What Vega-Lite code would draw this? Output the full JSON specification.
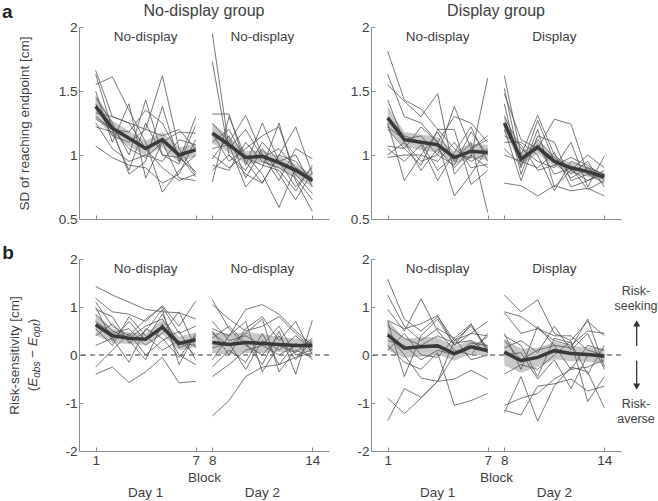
{
"$schema": "https://vega.github.io/schema/vega-lite/v6.json",
"padding": {"left": 2, "top": 2, "right": 0, "bottom": 0},
"background": "white",
"config": {
  "view": {"stroke": null},
  "font": "Liberation Sans",
  "axis": {"domainColor": "#8c8c8c", "tickColor": "#8c8c8c", "labelColor": "#404040", "labelFont": "Liberation Sans", "titleFont": "Liberation Sans", "labelFontSize": 13.5, "titleFontSize": 13.5, "titleFontWeight": "normal", "titleColor": "#404040", "grid": false, "tickSize": -4, "labelPadding": 6, "labelOverlap": false},
  "text": {"font": "Liberation Sans", "color": "#404040"}
},
"datasets": {
"subj": [
{"p":"A","s":1,"d":1,"b":1,"v":1.66},{"p":"A","s":1,"d":1,"b":2,"v":1.30},{"p":"A","s":1,"d":1,"b":3,"v":1.25},{"p":"A","s":1,"d":1,"b":4,"v":1.20},{"p":"A","s":1,"d":1,"b":5,"v":1.62},{"p":"A","s":1,"d":1,"b":6,"v":1.05},{"p":"A","s":1,"d":1,"b":7,"v":0.85},
{"p":"A","s":2,"d":1,"b":1,"v":1.63},{"p":"A","s":2,"d":1,"b":2,"v":1.20},{"p":"A","s":2,"d":1,"b":3,"v":0.85},{"p":"A","s":2,"d":1,"b":4,"v":0.95},{"p":"A","s":2,"d":1,"b":5,"v":1.38},{"p":"A","s":2,"d":1,"b":6,"v":0.95},{"p":"A","s":2,"d":1,"b":7,"v":1.30},
{"p":"A","s":3,"d":1,"b":1,"v":1.55},{"p":"A","s":3,"d":1,"b":2,"v":1.61},{"p":"A","s":3,"d":1,"b":3,"v":1.35},{"p":"A","s":3,"d":1,"b":4,"v":1.10},{"p":"A","s":3,"d":1,"b":5,"v":0.71},{"p":"A","s":3,"d":1,"b":6,"v":0.88},{"p":"A","s":3,"d":1,"b":7,"v":1.00},
{"p":"A","s":4,"d":1,"b":1,"v":1.50},{"p":"A","s":4,"d":1,"b":2,"v":1.10},{"p":"A","s":4,"d":1,"b":3,"v":1.40},{"p":"A","s":4,"d":1,"b":4,"v":0.82},{"p":"A","s":4,"d":1,"b":5,"v":1.10},{"p":"A","s":4,"d":1,"b":6,"v":1.18},{"p":"A","s":4,"d":1,"b":7,"v":1.17},
{"p":"A","s":5,"d":1,"b":1,"v":1.45},{"p":"A","s":5,"d":1,"b":2,"v":1.25},{"p":"A","s":5,"d":1,"b":3,"v":1.00},{"p":"A","s":5,"d":1,"b":4,"v":1.43},{"p":"A","s":5,"d":1,"b":5,"v":1.00},{"p":"A","s":5,"d":1,"b":6,"v":0.93},{"p":"A","s":5,"d":1,"b":7,"v":1.23},
{"p":"A","s":6,"d":1,"b":1,"v":1.40},{"p":"A","s":6,"d":1,"b":2,"v":1.15},{"p":"A","s":6,"d":1,"b":3,"v":1.10},{"p":"A","s":6,"d":1,"b":4,"v":1.20},{"p":"A","s":6,"d":1,"b":5,"v":1.15},{"p":"A","s":6,"d":1,"b":6,"v":1.20},{"p":"A","s":6,"d":1,"b":7,"v":1.05},
{"p":"A","s":7,"d":1,"b":1,"v":1.33},{"p":"A","s":7,"d":1,"b":2,"v":1.30},{"p":"A","s":7,"d":1,"b":3,"v":1.25},{"p":"A","s":7,"d":1,"b":4,"v":1.05},{"p":"A","s":7,"d":1,"b":5,"v":0.90},{"p":"A","s":7,"d":1,"b":6,"v":0.80},{"p":"A","s":7,"d":1,"b":7,"v":0.85},
{"p":"A","s":8,"d":1,"b":1,"v":1.28},{"p":"A","s":8,"d":1,"b":2,"v":1.20},{"p":"A","s":8,"d":1,"b":3,"v":1.18},{"p":"A","s":8,"d":1,"b":4,"v":1.35},{"p":"A","s":8,"d":1,"b":5,"v":1.25},{"p":"A","s":8,"d":1,"b":6,"v":1.00},{"p":"A","s":8,"d":1,"b":7,"v":0.83},
{"p":"A","s":9,"d":1,"b":1,"v":1.25},{"p":"A","s":9,"d":1,"b":2,"v":1.05},{"p":"A","s":9,"d":1,"b":3,"v":0.95},{"p":"A","s":9,"d":1,"b":4,"v":1.00},{"p":"A","s":9,"d":1,"b":5,"v":0.95},{"p":"A","s":9,"d":1,"b":6,"v":1.12},{"p":"A","s":9,"d":1,"b":7,"v":1.08},
{"p":"A","s":10,"d":1,"b":1,"v":1.22},{"p":"A","s":10,"d":1,"b":2,"v":1.18},{"p":"A","s":10,"d":1,"b":3,"v":0.88},{"p":"A","s":10,"d":1,"b":4,"v":1.25},{"p":"A","s":10,"d":1,"b":5,"v":1.00},{"p":"A","s":10,"d":1,"b":6,"v":0.98},{"p":"A","s":10,"d":1,"b":7,"v":0.87},
{"p":"A","s":11,"d":1,"b":1,"v":1.07},{"p":"A","s":11,"d":1,"b":2,"v":0.98},{"p":"A","s":11,"d":1,"b":3,"v":0.92},{"p":"A","s":11,"d":1,"b":4,"v":0.90},{"p":"A","s":11,"d":1,"b":5,"v":0.78},{"p":"A","s":11,"d":1,"b":6,"v":0.85},{"p":"A","s":11,"d":1,"b":7,"v":1.12},
{"p":"A","s":12,"d":1,"b":1,"v":1.30},{"p":"A","s":12,"d":1,"b":2,"v":1.20},{"p":"A","s":12,"d":1,"b":3,"v":1.05},{"p":"A","s":12,"d":1,"b":4,"v":0.98},{"p":"A","s":12,"d":1,"b":5,"v":1.10},{"p":"A","s":12,"d":1,"b":6,"v":0.82},{"p":"A","s":12,"d":1,"b":7,"v":0.80},
{"p":"A","s":1,"d":2,"b":8,"v":1.95},{"p":"A","s":1,"d":2,"b":9,"v":1.05},{"p":"A","s":1,"d":2,"b":10,"v":1.20},{"p":"A","s":1,"d":2,"b":11,"v":0.98},{"p":"A","s":1,"d":2,"b":12,"v":1.05},{"p":"A","s":1,"d":2,"b":13,"v":0.90},{"p":"A","s":1,"d":2,"b":14,"v":0.80},
{"p":"A","s":2,"d":2,"b":8,"v":1.73},{"p":"A","s":2,"d":2,"b":9,"v":1.00},{"p":"A","s":2,"d":2,"b":10,"v":0.88},{"p":"A","s":2,"d":2,"b":11,"v":1.10},{"p":"A","s":2,"d":2,"b":12,"v":0.95},{"p":"A","s":2,"d":2,"b":13,"v":1.00},{"p":"A","s":2,"d":2,"b":14,"v":0.75},
{"p":"A","s":3,"d":2,"b":8,"v":1.32},{"p":"A","s":3,"d":2,"b":9,"v":1.32},{"p":"A","s":3,"d":2,"b":10,"v":0.92},{"p":"A","s":3,"d":2,"b":11,"v":1.25},{"p":"A","s":3,"d":2,"b":12,"v":0.95},{"p":"A","s":3,"d":2,"b":13,"v":0.75},{"p":"A","s":3,"d":2,"b":14,"v":0.90},
{"p":"A","s":4,"d":2,"b":8,"v":1.25},{"p":"A","s":4,"d":2,"b":9,"v":1.10},{"p":"A","s":4,"d":2,"b":10,"v":1.31},{"p":"A","s":4,"d":2,"b":11,"v":1.00},{"p":"A","s":4,"d":2,"b":12,"v":0.80},{"p":"A","s":4,"d":2,"b":13,"v":1.05},{"p":"A","s":4,"d":2,"b":14,"v":0.97},
{"p":"A","s":5,"d":2,"b":8,"v":1.17},{"p":"A","s":5,"d":2,"b":9,"v":0.95},{"p":"A","s":5,"d":2,"b":10,"v":1.05},{"p":"A","s":5,"d":2,"b":11,"v":1.15},{"p":"A","s":5,"d":2,"b":12,"v":1.22},{"p":"A","s":5,"d":2,"b":13,"v":0.85},{"p":"A","s":5,"d":2,"b":14,"v":0.70},
{"p":"A","s":6,"d":2,"b":8,"v":1.10},{"p":"A","s":6,"d":2,"b":9,"v":1.20},{"p":"A","s":6,"d":2,"b":10,"v":0.95},{"p":"A","s":6,"d":2,"b":11,"v":0.78},{"p":"A","s":6,"d":2,"b":12,"v":1.00},{"p":"A","s":6,"d":2,"b":13,"v":1.22},{"p":"A","s":6,"d":2,"b":14,"v":0.85},
{"p":"A","s":7,"d":2,"b":8,"v":1.05},{"p":"A","s":7,"d":2,"b":9,"v":1.08},{"p":"A","s":7,"d":2,"b":10,"v":0.75},{"p":"A","s":7,"d":2,"b":11,"v":0.90},{"p":"A","s":7,"d":2,"b":12,"v":1.25},{"p":"A","s":7,"d":2,"b":13,"v":0.80},{"p":"A","s":7,"d":2,"b":14,"v":0.56},
{"p":"A","s":8,"d":2,"b":8,"v":1.00},{"p":"A","s":8,"d":2,"b":9,"v":0.90},{"p":"A","s":8,"d":2,"b":10,"v":1.00},{"p":"A","s":8,"d":2,"b":11,"v":0.85},{"p":"A","s":8,"d":2,"b":12,"v":0.59},{"p":"A","s":8,"d":2,"b":13,"v":0.90},{"p":"A","s":8,"d":2,"b":14,"v":0.82},
{"p":"A","s":9,"d":2,"b":8,"v":0.97},{"p":"A","s":9,"d":2,"b":9,"v":1.15},{"p":"A","s":9,"d":2,"b":10,"v":0.82},{"p":"A","s":9,"d":2,"b":11,"v":1.05},{"p":"A","s":9,"d":2,"b":12,"v":0.85},{"p":"A","s":9,"d":2,"b":13,"v":0.65},{"p":"A","s":9,"d":2,"b":14,"v":0.87},
{"p":"A","s":10,"d":2,"b":8,"v":0.92},{"p":"A","s":10,"d":2,"b":9,"v":0.88},{"p":"A","s":10,"d":2,"b":10,"v":1.10},{"p":"A","s":10,"d":2,"b":11,"v":0.95},{"p":"A","s":10,"d":2,"b":12,"v":0.90},{"p":"A","s":10,"d":2,"b":13,"v":0.82},{"p":"A","s":10,"d":2,"b":14,"v":0.65},
{"p":"A","s":11,"d":2,"b":8,"v":0.88},{"p":"A","s":11,"d":2,"b":9,"v":1.00},{"p":"A","s":11,"d":2,"b":10,"v":0.85},{"p":"A","s":11,"d":2,"b":11,"v":0.78},{"p":"A","s":11,"d":2,"b":12,"v":1.00},{"p":"A","s":11,"d":2,"b":13,"v":0.95},{"p":"A","s":11,"d":2,"b":14,"v":0.80},
{"p":"A","s":12,"d":2,"b":8,"v":0.79},{"p":"A","s":12,"d":2,"b":9,"v":1.30},{"p":"A","s":12,"d":2,"b":10,"v":0.98},{"p":"A","s":12,"d":2,"b":11,"v":0.92},{"p":"A","s":12,"d":2,"b":12,"v":0.88},{"p":"A","s":12,"d":2,"b":13,"v":0.72},{"p":"A","s":12,"d":2,"b":14,"v":0.92},
{"p":"B","s":1,"d":1,"b":1,"v":1.81},{"p":"B","s":1,"d":1,"b":2,"v":1.43},{"p":"B","s":1,"d":1,"b":3,"v":1.36},{"p":"B","s":1,"d":1,"b":4,"v":1.20},{"p":"B","s":1,"d":1,"b":5,"v":1.05},{"p":"B","s":1,"d":1,"b":6,"v":0.95},{"p":"B","s":1,"d":1,"b":7,"v":1.02},
{"p":"B","s":2,"d":1,"b":1,"v":1.63},{"p":"B","s":2,"d":1,"b":2,"v":1.30},{"p":"B","s":2,"d":1,"b":3,"v":1.25},{"p":"B","s":2,"d":1,"b":4,"v":1.10},{"p":"B","s":2,"d":1,"b":5,"v":1.30},{"p":"B","s":2,"d":1,"b":6,"v":1.25},{"p":"B","s":2,"d":1,"b":7,"v":1.10},
{"p":"B","s":3,"d":1,"b":1,"v":1.55},{"p":"B","s":3,"d":1,"b":2,"v":1.42},{"p":"B","s":3,"d":1,"b":3,"v":1.30},{"p":"B","s":3,"d":1,"b":4,"v":1.48},{"p":"B","s":3,"d":1,"b":5,"v":0.85},{"p":"B","s":3,"d":1,"b":6,"v":1.00},{"p":"B","s":3,"d":1,"b":7,"v":0.90},
{"p":"B","s":4,"d":1,"b":1,"v":1.43},{"p":"B","s":4,"d":1,"b":2,"v":1.10},{"p":"B","s":4,"d":1,"b":3,"v":0.95},{"p":"B","s":4,"d":1,"b":4,"v":1.00},{"p":"B","s":4,"d":1,"b":5,"v":1.38},{"p":"B","s":4,"d":1,"b":6,"v":1.05},{"p":"B","s":4,"d":1,"b":7,"v":1.15},
{"p":"B","s":5,"d":1,"b":1,"v":1.30},{"p":"B","s":5,"d":1,"b":2,"v":1.15},{"p":"B","s":5,"d":1,"b":3,"v":1.10},{"p":"B","s":5,"d":1,"b":4,"v":0.88},{"p":"B","s":5,"d":1,"b":5,"v":1.00},{"p":"B","s":5,"d":1,"b":6,"v":0.98},{"p":"B","s":5,"d":1,"b":7,"v":1.60},
{"p":"B","s":6,"d":1,"b":1,"v":1.25},{"p":"B","s":6,"d":1,"b":2,"v":0.80},{"p":"B","s":6,"d":1,"b":3,"v":1.00},{"p":"B","s":6,"d":1,"b":4,"v":1.18},{"p":"B","s":6,"d":1,"b":5,"v":0.95},{"p":"B","s":6,"d":1,"b":6,"v":1.10},{"p":"B","s":6,"d":1,"b":7,"v":0.55},
{"p":"B","s":7,"d":1,"b":1,"v":1.20},{"p":"B","s":7,"d":1,"b":2,"v":1.05},{"p":"B","s":7,"d":1,"b":3,"v":1.22},{"p":"B","s":7,"d":1,"b":4,"v":1.10},{"p":"B","s":7,"d":1,"b":5,"v":0.68},{"p":"B","s":7,"d":1,"b":6,"v":0.85},{"p":"B","s":7,"d":1,"b":7,"v":1.05},
{"p":"B","s":8,"d":1,"b":1,"v":1.07},{"p":"B","s":8,"d":1,"b":2,"v":1.05},{"p":"B","s":8,"d":1,"b":3,"v":0.92},{"p":"B","s":8,"d":1,"b":4,"v":1.20},{"p":"B","s":8,"d":1,"b":5,"v":1.20},{"p":"B","s":8,"d":1,"b":6,"v":0.77},{"p":"B","s":8,"d":1,"b":7,"v":0.88},
{"p":"B","s":9,"d":1,"b":1,"v":1.05},{"p":"B","s":9,"d":1,"b":2,"v":0.95},{"p":"B","s":9,"d":1,"b":3,"v":1.08},{"p":"B","s":9,"d":1,"b":4,"v":0.80},{"p":"B","s":9,"d":1,"b":5,"v":1.02},{"p":"B","s":9,"d":1,"b":6,"v":1.22},{"p":"B","s":9,"d":1,"b":7,"v":0.95},
{"p":"B","s":10,"d":1,"b":1,"v":1.00},{"p":"B","s":10,"d":1,"b":2,"v":1.10},{"p":"B","s":10,"d":1,"b":3,"v":0.88},{"p":"B","s":10,"d":1,"b":4,"v":1.05},{"p":"B","s":10,"d":1,"b":5,"v":0.90},{"p":"B","s":10,"d":1,"b":6,"v":1.05},{"p":"B","s":10,"d":1,"b":7,"v":1.12},
{"p":"B","s":11,"d":1,"b":1,"v":0.98},{"p":"B","s":11,"d":1,"b":2,"v":1.00},{"p":"B","s":11,"d":1,"b":3,"v":1.00},{"p":"B","s":11,"d":1,"b":4,"v":0.95},{"p":"B","s":11,"d":1,"b":5,"v":1.10},{"p":"B","s":11,"d":1,"b":6,"v":0.90},{"p":"B","s":11,"d":1,"b":7,"v":0.93},
{"p":"B","s":12,"d":1,"b":1,"v":1.22},{"p":"B","s":12,"d":1,"b":2,"v":1.12},{"p":"B","s":12,"d":1,"b":3,"v":1.15},{"p":"B","s":12,"d":1,"b":4,"v":1.00},{"p":"B","s":12,"d":1,"b":5,"v":0.92},{"p":"B","s":12,"d":1,"b":6,"v":1.18},{"p":"B","s":12,"d":1,"b":7,"v":1.00},
{"p":"B","s":1,"d":2,"b":8,"v":1.62},{"p":"B","s":1,"d":2,"b":9,"v":1.00},{"p":"B","s":1,"d":2,"b":10,"v":1.31},{"p":"B","s":1,"d":2,"b":11,"v":1.00},{"p":"B","s":1,"d":2,"b":12,"v":0.88},{"p":"B","s":1,"d":2,"b":13,"v":0.80},{"p":"B","s":1,"d":2,"b":14,"v":0.85},
{"p":"B","s":2,"d":2,"b":8,"v":1.52},{"p":"B","s":2,"d":2,"b":9,"v":0.90},{"p":"B","s":2,"d":2,"b":10,"v":1.27},{"p":"B","s":2,"d":2,"b":11,"v":0.95},{"p":"B","s":2,"d":2,"b":12,"v":0.82},{"p":"B","s":2,"d":2,"b":13,"v":0.90},{"p":"B","s":2,"d":2,"b":14,"v":0.80},
{"p":"B","s":3,"d":2,"b":8,"v":1.48},{"p":"B","s":3,"d":2,"b":9,"v":1.12},{"p":"B","s":3,"d":2,"b":10,"v":1.05},{"p":"B","s":3,"d":2,"b":11,"v":1.28},{"p":"B","s":3,"d":2,"b":12,"v":1.24},{"p":"B","s":3,"d":2,"b":13,"v":0.85},{"p":"B","s":3,"d":2,"b":14,"v":0.82},
{"p":"B","s":4,"d":2,"b":8,"v":1.40},{"p":"B","s":4,"d":2,"b":9,"v":0.85},{"p":"B","s":4,"d":2,"b":10,"v":1.20},{"p":"B","s":4,"d":2,"b":11,"v":0.75},{"p":"B","s":4,"d":2,"b":12,"v":0.88},{"p":"B","s":4,"d":2,"b":13,"v":1.00},{"p":"B","s":4,"d":2,"b":14,"v":0.90},
{"p":"B","s":5,"d":2,"b":8,"v":1.30},{"p":"B","s":5,"d":2,"b":9,"v":1.05},{"p":"B","s":5,"d":2,"b":10,"v":0.95},{"p":"B","s":5,"d":2,"b":11,"v":0.90},{"p":"B","s":5,"d":2,"b":12,"v":1.10},{"p":"B","s":5,"d":2,"b":13,"v":0.75},{"p":"B","s":5,"d":2,"b":14,"v":0.99},
{"p":"B","s":6,"d":2,"b":8,"v":1.20},{"p":"B","s":6,"d":2,"b":9,"v":0.80},{"p":"B","s":6,"d":2,"b":10,"v":1.15},{"p":"B","s":6,"d":2,"b":11,"v":1.10},{"p":"B","s":6,"d":2,"b":12,"v":0.80},{"p":"B","s":6,"d":2,"b":13,"v":0.85},{"p":"B","s":6,"d":2,"b":14,"v":0.78},
{"p":"B","s":7,"d":2,"b":8,"v":1.10},{"p":"B","s":7,"d":2,"b":9,"v":1.10},{"p":"B","s":7,"d":2,"b":10,"v":1.00},{"p":"B","s":7,"d":2,"b":11,"v":0.72},{"p":"B","s":7,"d":2,"b":12,"v":0.95},{"p":"B","s":7,"d":2,"b":13,"v":0.90},{"p":"B","s":7,"d":2,"b":14,"v":0.85},
{"p":"B","s":8,"d":2,"b":8,"v":1.00},{"p":"B","s":8,"d":2,"b":9,"v":0.95},{"p":"B","s":8,"d":2,"b":10,"v":0.90},{"p":"B","s":8,"d":2,"b":11,"v":1.02},{"p":"B","s":8,"d":2,"b":12,"v":0.75},{"p":"B","s":8,"d":2,"b":13,"v":0.80},{"p":"B","s":8,"d":2,"b":14,"v":0.88},
{"p":"B","s":9,"d":2,"b":8,"v":0.78},{"p":"B","s":9,"d":2,"b":9,"v":0.76},{"p":"B","s":9,"d":2,"b":10,"v":0.68},{"p":"B","s":9,"d":2,"b":11,"v":0.76},{"p":"B","s":9,"d":2,"b":12,"v":0.72},{"p":"B","s":9,"d":2,"b":13,"v":0.74},{"p":"B","s":9,"d":2,"b":14,"v":0.68},
{"p":"B","s":10,"d":2,"b":8,"v":1.25},{"p":"B","s":10,"d":2,"b":9,"v":0.95},{"p":"B","s":10,"d":2,"b":10,"v":1.08},{"p":"B","s":10,"d":2,"b":11,"v":0.85},{"p":"B","s":10,"d":2,"b":12,"v":0.90},{"p":"B","s":10,"d":2,"b":13,"v":0.73},{"p":"B","s":10,"d":2,"b":14,"v":0.80},
{"p":"B","s":11,"d":2,"b":8,"v":1.15},{"p":"B","s":11,"d":2,"b":9,"v":1.08},{"p":"B","s":11,"d":2,"b":10,"v":0.88},{"p":"B","s":11,"d":2,"b":11,"v":0.92},{"p":"B","s":11,"d":2,"b":12,"v":0.98},{"p":"B","s":11,"d":2,"b":13,"v":0.92},{"p":"B","s":11,"d":2,"b":14,"v":0.83},
{"p":"B","s":12,"d":2,"b":8,"v":1.05},{"p":"B","s":12,"d":2,"b":9,"v":0.92},{"p":"B","s":12,"d":2,"b":10,"v":1.12},{"p":"B","s":12,"d":2,"b":11,"v":0.98},{"p":"B","s":12,"d":2,"b":12,"v":0.85},{"p":"B","s":12,"d":2,"b":13,"v":0.95},{"p":"B","s":12,"d":2,"b":14,"v":0.75},
{"p":"C","s":1,"d":1,"b":1,"v":1.43},{"p":"C","s":1,"d":1,"b":2,"v":1.25},{"p":"C","s":1,"d":1,"b":3,"v":1.10},{"p":"C","s":1,"d":1,"b":4,"v":0.95},{"p":"C","s":1,"d":1,"b":5,"v":0.90},{"p":"C","s":1,"d":1,"b":6,"v":0.88},{"p":"C","s":1,"d":1,"b":7,"v":0.75},
{"p":"C","s":2,"d":1,"b":1,"v":1.18},{"p":"C","s":2,"d":1,"b":2,"v":0.90},{"p":"C","s":2,"d":1,"b":3,"v":0.85},{"p":"C","s":2,"d":1,"b":4,"v":0.70},{"p":"C","s":2,"d":1,"b":5,"v":1.03},{"p":"C","s":2,"d":1,"b":6,"v":0.60},{"p":"C","s":2,"d":1,"b":7,"v":1.12},
{"p":"C","s":3,"d":1,"b":1,"v":1.10},{"p":"C","s":3,"d":1,"b":2,"v":0.60},{"p":"C","s":3,"d":1,"b":3,"v":0.40},{"p":"C","s":3,"d":1,"b":4,"v":0.75},{"p":"C","s":3,"d":1,"b":5,"v":1.00},{"p":"C","s":3,"d":1,"b":6,"v":0.45},{"p":"C","s":3,"d":1,"b":7,"v":0.60},
{"p":"C","s":4,"d":1,"b":1,"v":1.00},{"p":"C","s":4,"d":1,"b":2,"v":0.30},{"p":"C","s":4,"d":1,"b":3,"v":0.70},{"p":"C","s":4,"d":1,"b":4,"v":0.30},{"p":"C","s":4,"d":1,"b":5,"v":0.85},{"p":"C","s":4,"d":1,"b":6,"v":0.15},{"p":"C","s":4,"d":1,"b":7,"v":0.30},
{"p":"C","s":5,"d":1,"b":1,"v":0.95},{"p":"C","s":5,"d":1,"b":2,"v":0.80},{"p":"C","s":5,"d":1,"b":3,"v":0.25},{"p":"C","s":5,"d":1,"b":4,"v":0.50},{"p":"C","s":5,"d":1,"b":5,"v":0.95},{"p":"C","s":5,"d":1,"b":6,"v":-0.20},{"p":"C","s":5,"d":1,"b":7,"v":0.45},
{"p":"C","s":6,"d":1,"b":1,"v":0.70},{"p":"C","s":6,"d":1,"b":2,"v":0.45},{"p":"C","s":6,"d":1,"b":3,"v":0.55},{"p":"C","s":6,"d":1,"b":4,"v":0.20},{"p":"C","s":6,"d":1,"b":5,"v":0.45},{"p":"C","s":6,"d":1,"b":6,"v":0.90},{"p":"C","s":6,"d":1,"b":7,"v":0.15},
{"p":"C","s":7,"d":1,"b":1,"v":0.55},{"p":"C","s":7,"d":1,"b":2,"v":0.20},{"p":"C","s":7,"d":1,"b":3,"v":0.80},{"p":"C","s":7,"d":1,"b":4,"v":0.40},{"p":"C","s":7,"d":1,"b":5,"v":0.10},{"p":"C","s":7,"d":1,"b":6,"v":0.30},{"p":"C","s":7,"d":1,"b":7,"v":0.00},
{"p":"C","s":8,"d":1,"b":1,"v":0.40},{"p":"C","s":8,"d":1,"b":2,"v":0.65},{"p":"C","s":8,"d":1,"b":3,"v":0.30},{"p":"C","s":8,"d":1,"b":4,"v":-0.10},{"p":"C","s":8,"d":1,"b":5,"v":0.65},{"p":"C","s":8,"d":1,"b":6,"v":0.00},{"p":"C","s":8,"d":1,"b":7,"v":-0.20},
{"p":"C","s":9,"d":1,"b":1,"v":0.20},{"p":"C","s":9,"d":1,"b":2,"v":0.35},{"p":"C","s":9,"d":1,"b":3,"v":-0.15},{"p":"C","s":9,"d":1,"b":4,"v":0.55},{"p":"C","s":9,"d":1,"b":5,"v":0.35},{"p":"C","s":9,"d":1,"b":6,"v":-0.05},{"p":"C","s":9,"d":1,"b":7,"v":0.40},
{"p":"C","s":10,"d":1,"b":1,"v":-0.25},{"p":"C","s":10,"d":1,"b":2,"v":0.10},{"p":"C","s":10,"d":1,"b":3,"v":0.45},{"p":"C","s":10,"d":1,"b":4,"v":0.00},{"p":"C","s":10,"d":1,"b":5,"v":0.30},{"p":"C","s":10,"d":1,"b":6,"v":0.50},{"p":"C","s":10,"d":1,"b":7,"v":-0.10},
{"p":"C","s":11,"d":1,"b":1,"v":-0.40},{"p":"C","s":11,"d":1,"b":2,"v":-0.25},{"p":"C","s":11,"d":1,"b":3,"v":-0.57},{"p":"C","s":11,"d":1,"b":4,"v":-0.35},{"p":"C","s":11,"d":1,"b":5,"v":-0.05},{"p":"C","s":11,"d":1,"b":6,"v":-0.58},{"p":"C","s":11,"d":1,"b":7,"v":-0.55},
{"p":"C","s":12,"d":1,"b":1,"v":0.85},{"p":"C","s":12,"d":1,"b":2,"v":0.50},{"p":"C","s":12,"d":1,"b":3,"v":0.35},{"p":"C","s":12,"d":1,"b":4,"v":0.60},{"p":"C","s":12,"d":1,"b":5,"v":0.75},{"p":"C","s":12,"d":1,"b":6,"v":0.25},{"p":"C","s":12,"d":1,"b":7,"v":0.20},
{"p":"C","s":1,"d":2,"b":8,"v":1.15},{"p":"C","s":1,"d":2,"b":9,"v":0.55},{"p":"C","s":1,"d":2,"b":10,"v":0.20},{"p":"C","s":1,"d":2,"b":11,"v":0.00},{"p":"C","s":1,"d":2,"b":12,"v":0.40},{"p":"C","s":1,"d":2,"b":13,"v":-0.10},{"p":"C","s":1,"d":2,"b":14,"v":0.30},
{"p":"C","s":2,"d":2,"b":8,"v":1.05},{"p":"C","s":2,"d":2,"b":9,"v":0.75},{"p":"C","s":2,"d":2,"b":10,"v":0.50},{"p":"C","s":2,"d":2,"b":11,"v":0.60},{"p":"C","s":2,"d":2,"b":12,"v":0.80},{"p":"C","s":2,"d":2,"b":13,"v":0.45},{"p":"C","s":2,"d":2,"b":14,"v":0.15},
{"p":"C","s":3,"d":2,"b":8,"v":0.55},{"p":"C","s":3,"d":2,"b":9,"v":0.40},{"p":"C","s":3,"d":2,"b":10,"v":0.95},{"p":"C","s":3,"d":2,"b":11,"v":1.05},{"p":"C","s":3,"d":2,"b":12,"v":0.85},{"p":"C","s":3,"d":2,"b":13,"v":0.50},{"p":"C","s":3,"d":2,"b":14,"v":0.20},
{"p":"C","s":4,"d":2,"b":8,"v":0.50},{"p":"C","s":4,"d":2,"b":9,"v":0.00},{"p":"C","s":4,"d":2,"b":10,"v":0.55},{"p":"C","s":4,"d":2,"b":11,"v":0.80},{"p":"C","s":4,"d":2,"b":12,"v":0.30},{"p":"C","s":4,"d":2,"b":13,"v":0.70},{"p":"C","s":4,"d":2,"b":14,"v":0.00},
{"p":"C","s":5,"d":2,"b":8,"v":0.45},{"p":"C","s":5,"d":2,"b":9,"v":0.20},{"p":"C","s":5,"d":2,"b":10,"v":0.45},{"p":"C","s":5,"d":2,"b":11,"v":0.75},{"p":"C","s":5,"d":2,"b":12,"v":-0.35},{"p":"C","s":5,"d":2,"b":13,"v":0.10},{"p":"C","s":5,"d":2,"b":14,"v":-0.05},
{"p":"C","s":6,"d":2,"b":8,"v":0.35},{"p":"C","s":6,"d":2,"b":9,"v":0.60},{"p":"C","s":6,"d":2,"b":10,"v":0.25},{"p":"C","s":6,"d":2,"b":11,"v":-0.20},{"p":"C","s":6,"d":2,"b":12,"v":0.50},{"p":"C","s":6,"d":2,"b":13,"v":-0.40},{"p":"C","s":6,"d":2,"b":14,"v":0.72},
{"p":"C","s":7,"d":2,"b":8,"v":0.15},{"p":"C","s":7,"d":2,"b":9,"v":0.25},{"p":"C","s":7,"d":2,"b":10,"v":-0.30},{"p":"C","s":7,"d":2,"b":11,"v":0.30},{"p":"C","s":7,"d":2,"b":12,"v":0.10},{"p":"C","s":7,"d":2,"b":13,"v":0.40},{"p":"C","s":7,"d":2,"b":14,"v":0.10},
{"p":"C","s":8,"d":2,"b":8,"v":-0.10},{"p":"C","s":8,"d":2,"b":9,"v":0.40},{"p":"C","s":8,"d":2,"b":10,"v":0.70},{"p":"C","s":8,"d":2,"b":11,"v":-0.35},{"p":"C","s":8,"d":2,"b":12,"v":0.20},{"p":"C","s":8,"d":2,"b":13,"v":0.05},{"p":"C","s":8,"d":2,"b":14,"v":0.35},
{"p":"C","s":9,"d":2,"b":8,"v":-0.25},{"p":"C","s":9,"d":2,"b":9,"v":0.10},{"p":"C","s":9,"d":2,"b":10,"v":-0.15},{"p":"C","s":9,"d":2,"b":11,"v":0.45},{"p":"C","s":9,"d":2,"b":12,"v":-0.20},{"p":"C","s":9,"d":2,"b":13,"v":0.25},{"p":"C","s":9,"d":2,"b":14,"v":-0.10},
{"p":"C","s":10,"d":2,"b":8,"v":-0.45},{"p":"C","s":10,"d":2,"b":9,"v":-0.20},{"p":"C","s":10,"d":2,"b":10,"v":0.10},{"p":"C","s":10,"d":2,"b":11,"v":0.20},{"p":"C","s":10,"d":2,"b":12,"v":0.00},{"p":"C","s":10,"d":2,"b":13,"v":0.20},{"p":"C","s":10,"d":2,"b":14,"v":0.25},
{"p":"C","s":11,"d":2,"b":8,"v":-1.27},{"p":"C","s":11,"d":2,"b":9,"v":-0.95},{"p":"C","s":11,"d":2,"b":10,"v":-0.45},{"p":"C","s":11,"d":2,"b":11,"v":-0.25},{"p":"C","s":11,"d":2,"b":12,"v":-0.20},{"p":"C","s":11,"d":2,"b":13,"v":-0.05},{"p":"C","s":11,"d":2,"b":14,"v":0.05},
{"p":"C","s":12,"d":2,"b":8,"v":0.70},{"p":"C","s":12,"d":2,"b":9,"v":0.30},{"p":"C","s":12,"d":2,"b":10,"v":0.40},{"p":"C","s":12,"d":2,"b":11,"v":0.20},{"p":"C","s":12,"d":2,"b":12,"v":0.60},{"p":"C","s":12,"d":2,"b":13,"v":0.00},{"p":"C","s":12,"d":2,"b":14,"v":0.10},
{"p":"D","s":1,"d":1,"b":1,"v":1.58},{"p":"D","s":1,"d":1,"b":2,"v":0.75},{"p":"D","s":1,"d":1,"b":3,"v":0.50},{"p":"D","s":1,"d":1,"b":4,"v":0.80},{"p":"D","s":1,"d":1,"b":5,"v":0.30},{"p":"D","s":1,"d":1,"b":6,"v":0.45},{"p":"D","s":1,"d":1,"b":7,"v":0.40},
{"p":"D","s":2,"d":1,"b":1,"v":1.25},{"p":"D","s":2,"d":1,"b":2,"v":0.60},{"p":"D","s":2,"d":1,"b":3,"v":0.30},{"p":"D","s":2,"d":1,"b":4,"v":0.55},{"p":"D","s":2,"d":1,"b":5,"v":0.35},{"p":"D","s":2,"d":1,"b":6,"v":0.65},{"p":"D","s":2,"d":1,"b":7,"v":0.10},
{"p":"D","s":3,"d":1,"b":1,"v":0.95},{"p":"D","s":3,"d":1,"b":2,"v":0.50},{"p":"D","s":3,"d":1,"b":3,"v":1.17},{"p":"D","s":3,"d":1,"b":4,"v":0.50},{"p":"D","s":3,"d":1,"b":5,"v":0.10},{"p":"D","s":3,"d":1,"b":6,"v":0.00},{"p":"D","s":3,"d":1,"b":7,"v":0.45},
{"p":"D","s":4,"d":1,"b":1,"v":0.72},{"p":"D","s":4,"d":1,"b":2,"v":0.55},{"p":"D","s":4,"d":1,"b":3,"v":0.65},{"p":"D","s":4,"d":1,"b":4,"v":0.82},{"p":"D","s":4,"d":1,"b":5,"v":0.20},{"p":"D","s":4,"d":1,"b":6,"v":0.65},{"p":"D","s":4,"d":1,"b":7,"v":0.05},
{"p":"D","s":5,"d":1,"b":1,"v":0.70},{"p":"D","s":5,"d":1,"b":2,"v":-0.45},{"p":"D","s":5,"d":1,"b":3,"v":0.40},{"p":"D","s":5,"d":1,"b":4,"v":0.75},{"p":"D","s":5,"d":1,"b":5,"v":0.20},{"p":"D","s":5,"d":1,"b":6,"v":0.45},{"p":"D","s":5,"d":1,"b":7,"v":0.70},
{"p":"D","s":6,"d":1,"b":1,"v":0.45},{"p":"D","s":6,"d":1,"b":2,"v":0.00},{"p":"D","s":6,"d":1,"b":3,"v":-0.48},{"p":"D","s":6,"d":1,"b":4,"v":-0.55},{"p":"D","s":6,"d":1,"b":5,"v":-0.50},{"p":"D","s":6,"d":1,"b":6,"v":-0.32},{"p":"D","s":6,"d":1,"b":7,"v":-0.50},
{"p":"D","s":7,"d":1,"b":1,"v":0.30},{"p":"D","s":7,"d":1,"b":2,"v":0.20},{"p":"D","s":7,"d":1,"b":3,"v":-0.10},{"p":"D","s":7,"d":1,"b":4,"v":0.10},{"p":"D","s":7,"d":1,"b":5,"v":0.00},{"p":"D","s":7,"d":1,"b":6,"v":0.15},{"p":"D","s":7,"d":1,"b":7,"v":0.38},
{"p":"D","s":8,"d":1,"b":1,"v":0.20},{"p":"D","s":8,"d":1,"b":2,"v":-0.15},{"p":"D","s":8,"d":1,"b":3,"v":-0.30},{"p":"D","s":8,"d":1,"b":4,"v":0.05},{"p":"D","s":8,"d":1,"b":5,"v":-1.05},{"p":"D","s":8,"d":1,"b":6,"v":-0.95},{"p":"D","s":8,"d":1,"b":7,"v":-0.80},
{"p":"D","s":9,"d":1,"b":1,"v":-0.90},{"p":"D","s":9,"d":1,"b":2,"v":-1.22},{"p":"D","s":9,"d":1,"b":3,"v":-0.90},{"p":"D","s":9,"d":1,"b":4,"v":-0.55},{"p":"D","s":9,"d":1,"b":5,"v":0.00},{"p":"D","s":9,"d":1,"b":6,"v":0.25},{"p":"D","s":9,"d":1,"b":7,"v":0.20},
{"p":"D","s":10,"d":1,"b":1,"v":-1.37},{"p":"D","s":10,"d":1,"b":2,"v":-0.70},{"p":"D","s":10,"d":1,"b":3,"v":-0.88},{"p":"D","s":10,"d":1,"b":4,"v":-0.55},{"p":"D","s":10,"d":1,"b":5,"v":0.30},{"p":"D","s":10,"d":1,"b":6,"v":0.60},{"p":"D","s":10,"d":1,"b":7,"v":0.15},
{"p":"D","s":11,"d":1,"b":1,"v":0.60},{"p":"D","s":11,"d":1,"b":2,"v":0.35},{"p":"D","s":11,"d":1,"b":3,"v":0.20},{"p":"D","s":11,"d":1,"b":4,"v":0.40},{"p":"D","s":11,"d":1,"b":5,"v":0.25},{"p":"D","s":11,"d":1,"b":6,"v":0.30},{"p":"D","s":11,"d":1,"b":7,"v":0.05},
{"p":"D","s":12,"d":1,"b":1,"v":0.10},{"p":"D","s":12,"d":1,"b":2,"v":0.45},{"p":"D","s":12,"d":1,"b":3,"v":0.00},{"p":"D","s":12,"d":1,"b":4,"v":-0.05},{"p":"D","s":12,"d":1,"b":5,"v":0.35},{"p":"D","s":12,"d":1,"b":6,"v":-0.10},{"p":"D","s":12,"d":1,"b":7,"v":0.00},
{"p":"D","s":1,"d":2,"b":8,"v":1.25},{"p":"D","s":1,"d":2,"b":9,"v":0.90},{"p":"D","s":1,"d":2,"b":10,"v":1.15},{"p":"D","s":1,"d":2,"b":11,"v":0.45},{"p":"D","s":1,"d":2,"b":12,"v":0.30},{"p":"D","s":1,"d":2,"b":13,"v":0.70},{"p":"D","s":1,"d":2,"b":14,"v":0.40},
{"p":"D","s":2,"d":2,"b":8,"v":0.90},{"p":"D","s":2,"d":2,"b":9,"v":0.80},{"p":"D","s":2,"d":2,"b":10,"v":0.55},{"p":"D","s":2,"d":2,"b":11,"v":0.30},{"p":"D","s":2,"d":2,"b":12,"v":0.20},{"p":"D","s":2,"d":2,"b":13,"v":0.50},{"p":"D","s":2,"d":2,"b":14,"v":0.45},
{"p":"D","s":3,"d":2,"b":8,"v":0.88},{"p":"D","s":3,"d":2,"b":9,"v":0.45},{"p":"D","s":3,"d":2,"b":10,"v":0.55},{"p":"D","s":3,"d":2,"b":11,"v":0.40},{"p":"D","s":3,"d":2,"b":12,"v":0.40},{"p":"D","s":3,"d":2,"b":13,"v":0.10},{"p":"D","s":3,"d":2,"b":14,"v":0.00},
{"p":"D","s":4,"d":2,"b":8,"v":0.45},{"p":"D","s":4,"d":2,"b":9,"v":-0.30},{"p":"D","s":4,"d":2,"b":10,"v":0.60},{"p":"D","s":4,"d":2,"b":11,"v":0.20},{"p":"D","s":4,"d":2,"b":12,"v":0.15},{"p":"D","s":4,"d":2,"b":13,"v":0.75},{"p":"D","s":4,"d":2,"b":14,"v":-0.25},
{"p":"D","s":5,"d":2,"b":8,"v":0.40},{"p":"D","s":5,"d":2,"b":9,"v":0.20},{"p":"D","s":5,"d":2,"b":10,"v":-0.45},{"p":"D","s":5,"d":2,"b":11,"v":0.35},{"p":"D","s":5,"d":2,"b":12,"v":0.25},{"p":"D","s":5,"d":2,"b":13,"v":-0.40},{"p":"D","s":5,"d":2,"b":14,"v":0.20},
{"p":"D","s":6,"d":2,"b":8,"v":0.30},{"p":"D","s":6,"d":2,"b":9,"v":-0.10},{"p":"D","s":6,"d":2,"b":10,"v":0.10},{"p":"D","s":6,"d":2,"b":11,"v":0.20},{"p":"D","s":6,"d":2,"b":12,"v":-0.30},{"p":"D","s":6,"d":2,"b":13,"v":0.20},{"p":"D","s":6,"d":2,"b":14,"v":0.10},
{"p":"D","s":7,"d":2,"b":8,"v":0.00},{"p":"D","s":7,"d":2,"b":9,"v":0.05},{"p":"D","s":7,"d":2,"b":10,"v":-0.50},{"p":"D","s":7,"d":2,"b":11,"v":-0.10},{"p":"D","s":7,"d":2,"b":12,"v":-0.70},{"p":"D","s":7,"d":2,"b":13,"v":0.00},{"p":"D","s":7,"d":2,"b":14,"v":-0.05},
{"p":"D","s":8,"d":2,"b":8,"v":-0.40},{"p":"D","s":8,"d":2,"b":9,"v":-0.20},{"p":"D","s":8,"d":2,"b":10,"v":-0.30},{"p":"D","s":8,"d":2,"b":11,"v":0.00},{"p":"D","s":8,"d":2,"b":12,"v":0.30},{"p":"D","s":8,"d":2,"b":13,"v":-0.97},{"p":"D","s":8,"d":2,"b":14,"v":-0.45},
{"p":"D","s":9,"d":2,"b":8,"v":-1.05},{"p":"D","s":9,"d":2,"b":9,"v":-0.90},{"p":"D","s":9,"d":2,"b":10,"v":-0.80},{"p":"D","s":9,"d":2,"b":11,"v":-0.50},{"p":"D","s":9,"d":2,"b":12,"v":-0.30},{"p":"D","s":9,"d":2,"b":13,"v":-0.25},{"p":"D","s":9,"d":2,"b":14,"v":-0.10},
{"p":"D","s":10,"d":2,"b":8,"v":-1.15},{"p":"D","s":10,"d":2,"b":9,"v":-1.25},{"p":"D","s":10,"d":2,"b":10,"v":-0.65},{"p":"D","s":10,"d":2,"b":11,"v":-0.60},{"p":"D","s":10,"d":2,"b":12,"v":-0.50},{"p":"D","s":10,"d":2,"b":13,"v":-0.75},{"p":"D","s":10,"d":2,"b":14,"v":-0.65},
{"p":"D","s":11,"d":2,"b":8,"v":-1.20},{"p":"D","s":11,"d":2,"b":9,"v":-0.45},{"p":"D","s":11,"d":2,"b":10,"v":-1.38},{"p":"D","s":11,"d":2,"b":11,"v":-0.65},{"p":"D","s":11,"d":2,"b":12,"v":-0.25},{"p":"D","s":11,"d":2,"b":13,"v":-0.35},{"p":"D","s":11,"d":2,"b":14,"v":-1.10},
{"p":"D","s":12,"d":2,"b":8,"v":0.15},{"p":"D","s":12,"d":2,"b":9,"v":0.30},{"p":"D","s":12,"d":2,"b":10,"v":0.05},{"p":"D","s":12,"d":2,"b":11,"v":0.60},{"p":"D","s":12,"d":2,"b":12,"v":0.10},{"p":"D","s":12,"d":2,"b":13,"v":0.45},{"p":"D","s":12,"d":2,"b":14,"v":-0.30}
],
"mean": [
{"p":"A","d":1,"b":1,"m":1.38,"lo":1.29,"hi":1.47},{"p":"A","d":1,"b":2,"m":1.21,"lo":1.15,"hi":1.27},{"p":"A","d":1,"b":3,"m":1.13,"lo":1.07,"hi":1.19},{"p":"A","d":1,"b":4,"m":1.05,"lo":0.99,"hi":1.11},{"p":"A","d":1,"b":5,"m":1.12,"lo":1.06,"hi":1.18},{"p":"A","d":1,"b":6,"m":1.00,"lo":0.94,"hi":1.06},{"p":"A","d":1,"b":7,"m":1.04,"lo":0.99,"hi":1.09},
{"p":"A","d":2,"b":8,"m":1.17,"lo":1.09,"hi":1.25},{"p":"A","d":2,"b":9,"m":1.08,"lo":1.02,"hi":1.14},{"p":"A","d":2,"b":10,"m":0.98,"lo":0.93,"hi":1.03},{"p":"A","d":2,"b":11,"m":0.99,"lo":0.94,"hi":1.04},{"p":"A","d":2,"b":12,"m":0.94,"lo":0.89,"hi":0.99},{"p":"A","d":2,"b":13,"m":0.88,"lo":0.83,"hi":0.93},{"p":"A","d":2,"b":14,"m":0.80,"lo":0.75,"hi":0.85},
{"p":"B","d":1,"b":1,"m":1.29,"lo":1.20,"hi":1.38},{"p":"B","d":1,"b":2,"m":1.12,"lo":1.06,"hi":1.18},{"p":"B","d":1,"b":3,"m":1.10,"lo":1.04,"hi":1.16},{"p":"B","d":1,"b":4,"m":1.08,"lo":1.02,"hi":1.14},{"p":"B","d":1,"b":5,"m":0.98,"lo":0.93,"hi":1.03},{"p":"B","d":1,"b":6,"m":1.03,"lo":0.97,"hi":1.09},{"p":"B","d":1,"b":7,"m":1.02,"lo":0.96,"hi":1.08},
{"p":"B","d":2,"b":8,"m":1.25,"lo":1.18,"hi":1.32},{"p":"B","d":2,"b":9,"m":0.97,"lo":0.92,"hi":1.02},{"p":"B","d":2,"b":10,"m":1.06,"lo":1.01,"hi":1.11},{"p":"B","d":2,"b":11,"m":0.95,"lo":0.91,"hi":0.99},{"p":"B","d":2,"b":12,"m":0.90,"lo":0.86,"hi":0.94},{"p":"B","d":2,"b":13,"m":0.87,"lo":0.83,"hi":0.91},{"p":"B","d":2,"b":14,"m":0.83,"lo":0.80,"hi":0.86},
{"p":"C","d":1,"b":1,"m":0.63,"lo":0.41,"hi":0.85},{"p":"C","d":1,"b":2,"m":0.40,"lo":0.25,"hi":0.55},{"p":"C","d":1,"b":3,"m":0.35,"lo":0.23,"hi":0.47},{"p":"C","d":1,"b":4,"m":0.33,"lo":0.21,"hi":0.45},{"p":"C","d":1,"b":5,"m":0.58,"lo":0.43,"hi":0.73},{"p":"C","d":1,"b":6,"m":0.24,"lo":0.10,"hi":0.38},{"p":"C","d":1,"b":7,"m":0.32,"lo":0.17,"hi":0.47},
{"p":"C","d":2,"b":8,"m":0.26,"lo":0.04,"hi":0.48},{"p":"C","d":2,"b":9,"m":0.22,"lo":0.00,"hi":0.44},{"p":"C","d":2,"b":10,"m":0.26,"lo":0.04,"hi":0.48},{"p":"C","d":2,"b":11,"m":0.24,"lo":0.04,"hi":0.44},{"p":"C","d":2,"b":12,"m":0.22,"lo":0.06,"hi":0.38},{"p":"C","d":2,"b":13,"m":0.20,"lo":0.06,"hi":0.34},{"p":"C","d":2,"b":14,"m":0.20,"lo":0.08,"hi":0.32},
{"p":"D","d":1,"b":1,"m":0.42,"lo":0.10,"hi":0.74},{"p":"D","d":1,"b":2,"m":0.14,"lo":-0.06,"hi":0.34},{"p":"D","d":1,"b":3,"m":0.17,"lo":-0.03,"hi":0.37},{"p":"D","d":1,"b":4,"m":0.19,"lo":0.01,"hi":0.37},{"p":"D","d":1,"b":5,"m":0.03,"lo":-0.12,"hi":0.18},{"p":"D","d":1,"b":6,"m":0.17,"lo":0.03,"hi":0.31},{"p":"D","d":1,"b":7,"m":0.09,"lo":-0.03,"hi":0.21},
{"p":"D","d":2,"b":8,"m":0.06,"lo":-0.22,"hi":0.34},{"p":"D","d":2,"b":9,"m":-0.12,"lo":-0.37,"hi":0.13},{"p":"D","d":2,"b":10,"m":-0.05,"lo":-0.25,"hi":0.15},{"p":"D","d":2,"b":11,"m":0.09,"lo":-0.09,"hi":0.27},{"p":"D","d":2,"b":12,"m":0.03,"lo":-0.13,"hi":0.19},{"p":"D","d":2,"b":13,"m":0.01,"lo":-0.14,"hi":0.16},{"p":"D","d":2,"b":14,"m":-0.02,"lo":-0.17,"hi":0.13}
]
},
"columns": 2,
"spacing": {"row": 40, "column": 42},
"bounds": "flush",
"concat": [
{
 "width": 250, "height": 192,
 "layer": [
  {"data": {"name": "mean"}, "transform": [{"filter": "datum.p === 'A'"}],
   "mark": {"type": "area", "color": "#c8c8c8", "opacity": 1},
   "encoding": {
    "x": {"field": "b", "type": "quantitative", "scale": {"domain": [0, 15], "nice": false, "zero": false}, "axis": {"values": [1, 7, 8, 14], "labels": false, "title": null}},
    "y": {"field": "lo", "type": "quantitative", "scale": {"domain": [0.5, 2], "nice": false, "zero": false}, "axis": {"values": [0.5, 1, 1.5, 2], "labelExpr": "'' + datum.value", "title": "SD of reaching endpoint [cm]", "titleX": -55, "titleBaseline": "middle"}},
    "y2": {"field": "hi"},
    "detail": {"field": "d"}}},
  {"data": {"name": "subj"}, "transform": [{"filter": "datum.p === 'A'"}],
   "mark": {"type": "line", "color": "#555555", "strokeWidth": 0.8},
   "encoding": {
    "x": {"field": "b", "type": "quantitative", "scale": {"domain": [0, 15], "nice": false, "zero": false}, "axis": {"values": [1, 7, 8, 14], "labels": false, "title": null}},
    "y": {"field": "v", "type": "quantitative", "scale": {"domain": [0.5, 2], "nice": false, "zero": false}, "axis": {"values": [0.5, 1, 1.5, 2], "labelExpr": "'' + datum.value", "title": "SD of reaching endpoint [cm]", "titleX": -55, "titleBaseline": "middle"}},
    "detail": [{"field": "s"}, {"field": "d"}]}},
  {"data": {"name": "mean"}, "transform": [{"filter": "datum.p === 'A'"}],
   "mark": {"type": "line", "color": "#3a3a3a", "strokeWidth": 3.5},
   "encoding": {
    "x": {"field": "b", "type": "quantitative", "scale": {"domain": [0, 15], "nice": false, "zero": false}, "axis": {"values": [1, 7, 8, 14], "labels": false, "title": null}},
    "y": {"field": "m", "type": "quantitative", "scale": {"domain": [0.5, 2], "nice": false, "zero": false}, "axis": {"values": [0.5, 1, 1.5, 2], "labelExpr": "'' + datum.value", "title": "SD of reaching endpoint [cm]", "titleX": -55, "titleBaseline": "middle"}},
    "detail": {"field": "d"}}},
  {"data": {"values": [{"b": 4, "v": 1.89, "t": "No-display"}, {"b": 11, "v": 1.89, "t": "No-display"}]},
   "mark": {"type": "text", "fontSize": 13.5, "baseline": "alphabetic", "align": "center"},
   "encoding": {
    "x": {"field": "b", "type": "quantitative", "scale": {"domain": [0, 15], "nice": false, "zero": false}, "axis": {"values": [1, 7, 8, 14], "labels": false, "title": null}},
    "y": {"field": "v", "type": "quantitative", "scale": {"domain": [0.5, 2], "nice": false, "zero": false}, "axis": {"values": [0.5, 1, 1.5, 2], "labelExpr": "'' + datum.value", "title": "SD of reaching endpoint [cm]", "titleX": -55, "titleBaseline": "middle"}},
    "text": {"field": "t"}}},
  {"data": {"values": [{"b": 7.5, "v": 2.085, "t": "No-display group"}]},
   "mark": {"type": "text", "fontSize": 16, "baseline": "alphabetic", "align": "center"},
   "encoding": {
    "x": {"field": "b", "type": "quantitative", "scale": {"domain": [0, 15], "nice": false, "zero": false}, "axis": {"values": [1, 7, 8, 14], "labels": false, "title": null}},
    "y": {"field": "v", "type": "quantitative", "scale": {"domain": [0.5, 2], "nice": false, "zero": false}, "axis": {"values": [0.5, 1, 1.5, 2], "labelExpr": "'' + datum.value", "title": "SD of reaching endpoint [cm]", "titleX": -55, "titleBaseline": "middle"}},
    "text": {"field": "t"}}},
  {"data": {"values": [{"b": -4.3, "v": 2.074, "t": "a"}]},
   "mark": {"type": "text", "fontSize": 19, "fontWeight": "bold", "baseline": "alphabetic", "align": "center", "color": "#222222"},
   "encoding": {
    "x": {"field": "b", "type": "quantitative", "scale": {"domain": [0, 15], "nice": false, "zero": false}, "axis": {"values": [1, 7, 8, 14], "labels": false, "title": null}},
    "y": {"field": "v", "type": "quantitative", "scale": {"domain": [0.5, 2], "nice": false, "zero": false}, "axis": {"values": [0.5, 1, 1.5, 2], "labelExpr": "'' + datum.value", "title": "SD of reaching endpoint [cm]", "titleX": -55, "titleBaseline": "middle"}},
    "text": {"field": "t"}}}
 ]
},
{
 "width": 250, "height": 192,
 "layer": [
  {"data": {"name": "mean"}, "transform": [{"filter": "datum.p === 'B'"}],
   "mark": {"type": "area", "color": "#c8c8c8", "opacity": 1},
   "encoding": {
    "x": {"field": "b", "type": "quantitative", "scale": {"domain": [0, 15], "nice": false, "zero": false}, "axis": {"values": [1, 7, 8, 14], "labels": false, "title": null}},
    "y": {"field": "lo", "type": "quantitative", "scale": {"domain": [0.5, 2], "nice": false, "zero": false}, "axis": {"values": [0.5, 1, 1.5, 2], "labelExpr": "'' + datum.value", "title": null}},
    "y2": {"field": "hi"},
    "detail": {"field": "d"}}},
  {"data": {"name": "subj"}, "transform": [{"filter": "datum.p === 'B'"}],
   "mark": {"type": "line", "color": "#555555", "strokeWidth": 0.8},
   "encoding": {
    "x": {"field": "b", "type": "quantitative", "scale": {"domain": [0, 15], "nice": false, "zero": false}, "axis": {"values": [1, 7, 8, 14], "labels": false, "title": null}},
    "y": {"field": "v", "type": "quantitative", "scale": {"domain": [0.5, 2], "nice": false, "zero": false}, "axis": {"values": [0.5, 1, 1.5, 2], "labelExpr": "'' + datum.value", "title": null}},
    "detail": [{"field": "s"}, {"field": "d"}]}},
  {"data": {"name": "mean"}, "transform": [{"filter": "datum.p === 'B'"}],
   "mark": {"type": "line", "color": "#3a3a3a", "strokeWidth": 3.5},
   "encoding": {
    "x": {"field": "b", "type": "quantitative", "scale": {"domain": [0, 15], "nice": false, "zero": false}, "axis": {"values": [1, 7, 8, 14], "labels": false, "title": null}},
    "y": {"field": "m", "type": "quantitative", "scale": {"domain": [0.5, 2], "nice": false, "zero": false}, "axis": {"values": [0.5, 1, 1.5, 2], "labelExpr": "'' + datum.value", "title": null}},
    "detail": {"field": "d"}}},
  {"data": {"values": [{"b": 4, "v": 1.89, "t": "No-display"}, {"b": 11, "v": 1.89, "t": "Display"}]},
   "mark": {"type": "text", "fontSize": 13.5, "baseline": "alphabetic", "align": "center"},
   "encoding": {
    "x": {"field": "b", "type": "quantitative", "scale": {"domain": [0, 15], "nice": false, "zero": false}, "axis": {"values": [1, 7, 8, 14], "labels": false, "title": null}},
    "y": {"field": "v", "type": "quantitative", "scale": {"domain": [0.5, 2], "nice": false, "zero": false}, "axis": {"values": [0.5, 1, 1.5, 2], "labelExpr": "'' + datum.value", "title": null}},
    "text": {"field": "t"}}},
  {"data": {"values": [{"b": 7.5, "v": 2.085, "t": "Display group"}]},
   "mark": {"type": "text", "fontSize": 16, "baseline": "alphabetic", "align": "center"},
   "encoding": {
    "x": {"field": "b", "type": "quantitative", "scale": {"domain": [0, 15], "nice": false, "zero": false}, "axis": {"values": [1, 7, 8, 14], "labels": false, "title": null}},
    "y": {"field": "v", "type": "quantitative", "scale": {"domain": [0.5, 2], "nice": false, "zero": false}, "axis": {"values": [0.5, 1, 1.5, 2], "labelExpr": "'' + datum.value", "title": null}},
    "text": {"field": "t"}}}
 ]
},
{
 "width": 250, "height": 192,
 "layer": [
  {"data": {"values": [{"v": 0}]},
   "mark": {"type": "rule", "color": "#333333", "strokeWidth": 1, "strokeDash": [5, 4]},
   "encoding": {
    "y": {"field": "v", "type": "quantitative", "scale": {"domain": [-2, 2], "nice": false, "zero": false}, "axis": {"values": [-2, -1, 0, 1, 2], "labelExpr": "'' + datum.value", "title": "Risk-sensitivity [cm]", "titleX": -65, "titleBaseline": "middle"}}}},
  {"data": {"name": "mean"}, "transform": [{"filter": "datum.p === 'C'"}],
   "mark": {"type": "area", "color": "#c8c8c8", "opacity": 1},
   "encoding": {
    "x": {"field": "b", "type": "quantitative", "scale": {"domain": [0, 15], "nice": false, "zero": false}, "axis": {"values": [1, 7, 8, 14], "title": "Block", "titleY": 30, "titleBaseline": "alphabetic"}},
    "y": {"field": "lo", "type": "quantitative", "scale": {"domain": [-2, 2], "nice": false, "zero": false}, "axis": {"values": [-2, -1, 0, 1, 2], "labelExpr": "'' + datum.value", "title": "Risk-sensitivity [cm]", "titleX": -65, "titleBaseline": "middle"}},
    "y2": {"field": "hi"},
    "detail": {"field": "d"}}},
  {"data": {"name": "subj"}, "transform": [{"filter": "datum.p === 'C'"}],
   "mark": {"type": "line", "color": "#555555", "strokeWidth": 0.8},
   "encoding": {
    "x": {"field": "b", "type": "quantitative", "scale": {"domain": [0, 15], "nice": false, "zero": false}, "axis": {"values": [1, 7, 8, 14], "title": "Block", "titleY": 30, "titleBaseline": "alphabetic"}},
    "y": {"field": "v", "type": "quantitative", "scale": {"domain": [-2, 2], "nice": false, "zero": false}, "axis": {"values": [-2, -1, 0, 1, 2], "labelExpr": "'' + datum.value", "title": "Risk-sensitivity [cm]", "titleX": -65, "titleBaseline": "middle"}},
    "detail": [{"field": "s"}, {"field": "d"}]}},
  {"data": {"name": "mean"}, "transform": [{"filter": "datum.p === 'C'"}],
   "mark": {"type": "line", "color": "#3a3a3a", "strokeWidth": 3.5},
   "encoding": {
    "x": {"field": "b", "type": "quantitative", "scale": {"domain": [0, 15], "nice": false, "zero": false}, "axis": {"values": [1, 7, 8, 14], "title": "Block", "titleY": 30, "titleBaseline": "alphabetic"}},
    "y": {"field": "m", "type": "quantitative", "scale": {"domain": [-2, 2], "nice": false, "zero": false}, "axis": {"values": [-2, -1, 0, 1, 2], "labelExpr": "'' + datum.value", "title": "Risk-sensitivity [cm]", "titleX": -65, "titleBaseline": "middle"}},
    "detail": {"field": "d"}}},
  {"data": {"values": [{"b": 4, "v": 1.71, "t": "No-display"}, {"b": 11, "v": 1.71, "t": "No-display"}, {"b": 4, "v": -2.96, "t": "Day 1"}, {"b": 11, "v": -2.96, "t": "Day 2"}]},
   "mark": {"type": "text", "fontSize": 13.5, "baseline": "alphabetic", "align": "center"},
   "encoding": {
    "x": {"field": "b", "type": "quantitative", "scale": {"domain": [0, 15], "nice": false, "zero": false}, "axis": {"values": [1, 7, 8, 14], "title": "Block", "titleY": 30, "titleBaseline": "alphabetic"}},
    "y": {"field": "v", "type": "quantitative", "scale": {"domain": [-2, 2], "nice": false, "zero": false}, "axis": {"values": [-2, -1, 0, 1, 2], "labelExpr": "'' + datum.value", "title": "Risk-sensitivity [cm]", "titleX": -65, "titleBaseline": "middle"}},
    "text": {"field": "t"}}},
  {"data": {"values": [{"b": -4.25, "v": 2.0, "t": "b"}]},
   "mark": {"type": "text", "fontSize": 19, "fontWeight": "bold", "baseline": "alphabetic", "align": "center", "color": "#222222"},
   "encoding": {
    "x": {"field": "b", "type": "quantitative", "scale": {"domain": [0, 15], "nice": false, "zero": false}, "axis": {"values": [1, 7, 8, 14], "title": "Block", "titleY": 30, "titleBaseline": "alphabetic"}},
    "y": {"field": "v", "type": "quantitative", "scale": {"domain": [-2, 2], "nice": false, "zero": false}, "axis": {"values": [-2, -1, 0, 1, 2], "labelExpr": "'' + datum.value", "title": "Risk-sensitivity [cm]", "titleX": -65, "titleBaseline": "middle"}},
    "text": {"field": "t"}}},
  {"data": {"values": [{"b": -2.76, "v": 0, "t": "("}]},
   "mark": {"type": "text", "fontSize": 13.5, "angle": 270, "baseline": "middle", "align": "left", "dx": -36.2},
   "encoding": {"x": {"field": "b", "type": "quantitative"}, "y": {"field": "v", "type": "quantitative"}, "text": {"field": "t"}}},
  {"data": {"values": [{"b": -2.76, "v": 0, "t": "E"}]},
   "mark": {"type": "text", "fontSize": 13.5, "fontStyle": "italic", "angle": 270, "baseline": "middle", "align": "left", "dx": -31.7},
   "encoding": {"x": {"field": "b", "type": "quantitative"}, "y": {"field": "v", "type": "quantitative"}, "text": {"field": "t"}}},
  {"data": {"values": [{"b": -2.76, "v": 0, "t": "obs"}]},
   "mark": {"type": "text", "fontSize": 10, "fontStyle": "italic", "angle": 270, "baseline": "middle", "align": "left", "dx": -22.7, "dy": 4},
   "encoding": {"x": {"field": "b", "type": "quantitative"}, "y": {"field": "v", "type": "quantitative"}, "text": {"field": "t"}}},
  {"data": {"values": [{"b": -2.76, "v": 0, "t": "−"}]},
   "mark": {"type": "text", "fontSize": 13.5, "angle": 270, "baseline": "middle", "align": "left", "dx": -2.85},
   "encoding": {"x": {"field": "b", "type": "quantitative"}, "y": {"field": "v", "type": "quantitative"}, "text": {"field": "t"}}},
  {"data": {"values": [{"b": -2.76, "v": 0, "t": "E"}]},
   "mark": {"type": "text", "fontSize": 13.5, "fontStyle": "italic", "angle": 270, "baseline": "middle", "align": "left", "dx": 8.8},
   "encoding": {"x": {"field": "b", "type": "quantitative"}, "y": {"field": "v", "type": "quantitative"}, "text": {"field": "t"}}},
  {"data": {"values": [{"b": -2.76, "v": 0, "t": "opt"}]},
   "mark": {"type": "text", "fontSize": 10, "fontStyle": "italic", "angle": 270, "baseline": "middle", "align": "left", "dx": 17.8, "dy": 4},
   "encoding": {"x": {"field": "b", "type": "quantitative"}, "y": {"field": "v", "type": "quantitative"}, "text": {"field": "t"}}},
  {"data": {"values": [{"b": -2.76, "v": 0, "t": ")"}]},
   "mark": {"type": "text", "fontSize": 13.5, "angle": 270, "baseline": "middle", "align": "left", "dx": 31.7},
   "encoding": {"x": {"field": "b", "type": "quantitative"}, "y": {"field": "v", "type": "quantitative"}, "text": {"field": "t"}}}
 ]
},
{
 "width": 250, "height": 192,
 "layer": [
  {"data": {"values": [{"v": 0}]},
   "mark": {"type": "rule", "color": "#333333", "strokeWidth": 1, "strokeDash": [5, 4]},
   "encoding": {
    "y": {"field": "v", "type": "quantitative", "scale": {"domain": [-2, 2], "nice": false, "zero": false}, "axis": {"values": [-2, -1, 0, 1, 2], "labelExpr": "'' + datum.value", "title": null}}}},
  {"data": {"name": "mean"}, "transform": [{"filter": "datum.p === 'D'"}],
   "mark": {"type": "area", "color": "#c8c8c8", "opacity": 1},
   "encoding": {
    "x": {"field": "b", "type": "quantitative", "scale": {"domain": [0, 15], "nice": false, "zero": false}, "axis": {"values": [1, 7, 8, 14], "title": "Block", "titleY": 30, "titleBaseline": "alphabetic"}},
    "y": {"field": "lo", "type": "quantitative", "scale": {"domain": [-2, 2], "nice": false, "zero": false}, "axis": {"values": [-2, -1, 0, 1, 2], "labelExpr": "'' + datum.value", "title": null}},
    "y2": {"field": "hi"},
    "detail": {"field": "d"}}},
  {"data": {"name": "subj"}, "transform": [{"filter": "datum.p === 'D'"}],
   "mark": {"type": "line", "color": "#555555", "strokeWidth": 0.8},
   "encoding": {
    "x": {"field": "b", "type": "quantitative", "scale": {"domain": [0, 15], "nice": false, "zero": false}, "axis": {"values": [1, 7, 8, 14], "title": "Block", "titleY": 30, "titleBaseline": "alphabetic"}},
    "y": {"field": "v", "type": "quantitative", "scale": {"domain": [-2, 2], "nice": false, "zero": false}, "axis": {"values": [-2, -1, 0, 1, 2], "labelExpr": "'' + datum.value", "title": null}},
    "detail": [{"field": "s"}, {"field": "d"}]}},
  {"data": {"name": "mean"}, "transform": [{"filter": "datum.p === 'D'"}],
   "mark": {"type": "line", "color": "#3a3a3a", "strokeWidth": 3.5},
   "encoding": {
    "x": {"field": "b", "type": "quantitative", "scale": {"domain": [0, 15], "nice": false, "zero": false}, "axis": {"values": [1, 7, 8, 14], "title": "Block", "titleY": 30, "titleBaseline": "alphabetic"}},
    "y": {"field": "m", "type": "quantitative", "scale": {"domain": [-2, 2], "nice": false, "zero": false}, "axis": {"values": [-2, -1, 0, 1, 2], "labelExpr": "'' + datum.value", "title": null}},
    "detail": {"field": "d"}}},
  {"data": {"values": [{"b": 4, "v": 1.71, "t": "No-display"}, {"b": 11, "v": 1.71, "t": "Display"}, {"b": 4, "v": -2.96, "t": "Day 1"}, {"b": 11, "v": -2.96, "t": "Day 2"}]},
   "mark": {"type": "text", "fontSize": 13.5, "baseline": "alphabetic", "align": "center"},
   "encoding": {
    "x": {"field": "b", "type": "quantitative", "scale": {"domain": [0, 15], "nice": false, "zero": false}, "axis": {"values": [1, 7, 8, 14], "title": "Block", "titleY": 30, "titleBaseline": "alphabetic"}},
    "y": {"field": "v", "type": "quantitative", "scale": {"domain": [-2, 2], "nice": false, "zero": false}, "axis": {"values": [-2, -1, 0, 1, 2], "labelExpr": "'' + datum.value", "title": null}},
    "text": {"field": "t"}}},
  {"data": {"values": [{"b": 15.94, "v": 0.19, "v2": 0.6}, {"b": 15.94, "v": -0.12, "v2": -0.6}]},
   "mark": {"type": "rule", "color": "#333333", "strokeWidth": 1.3},
   "encoding": {
    "x": {"field": "b", "type": "quantitative"},
    "y": {"field": "v", "type": "quantitative"},
    "y2": {"field": "v2"}}},
  {"data": {"values": [{"b": 15.94, "v": 0.66}]},
   "mark": {"type": "point", "shape": "triangle-up", "filled": true, "size": 50, "color": "#333333", "opacity": 1},
   "encoding": {"x": {"field": "b", "type": "quantitative"}, "y": {"field": "v", "type": "quantitative"}}},
  {"data": {"values": [{"b": 15.94, "v": -0.66}]},
   "mark": {"type": "point", "shape": "triangle-down", "filled": true, "size": 50, "color": "#333333", "opacity": 1},
   "encoding": {"x": {"field": "b", "type": "quantitative"}, "y": {"field": "v", "type": "quantitative"}}},
  {"data": {"values": [{"b": 15.9, "v": 1.34, "t": "Risk-"}, {"b": 15.9, "v": 1.03, "t": "seeking"}, {"b": 15.9, "v": -1.03, "t": "Risk-"}, {"b": 15.9, "v": -1.33, "t": "averse"}]},
   "mark": {"type": "text", "fontSize": 12.5, "baseline": "middle", "align": "center"},
   "encoding": {"x": {"field": "b", "type": "quantitative"}, "y": {"field": "v", "type": "quantitative"}, "text": {"field": "t"}}}
 ]
}
]
}
